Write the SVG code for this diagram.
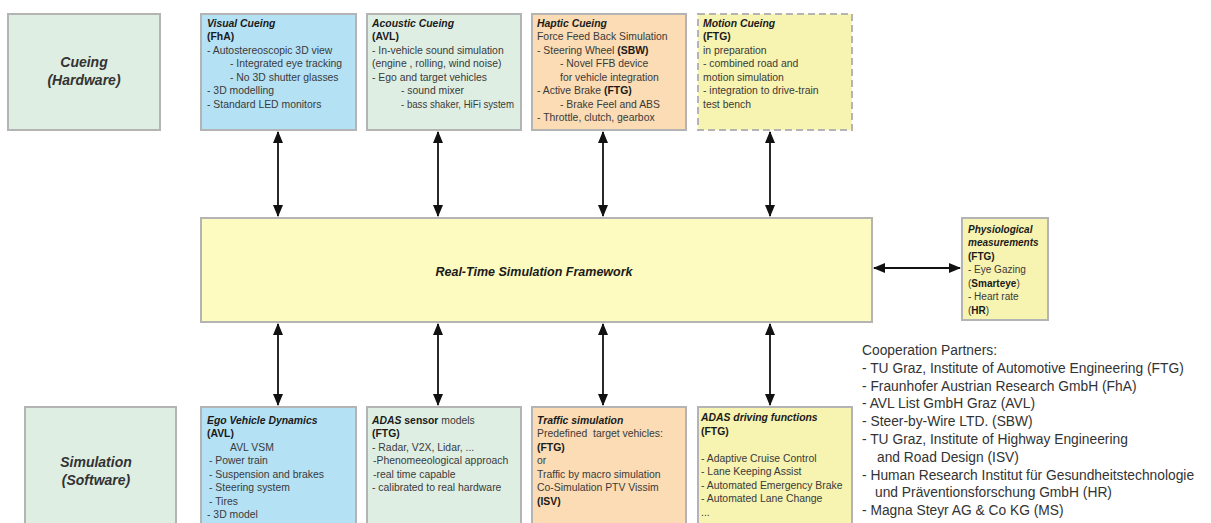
<svg xmlns="http://www.w3.org/2000/svg" width="1211" height="523" viewBox="0 0 1211 523">
<defs>
<style>
text{font-family:"Liberation Sans",Arial,sans-serif;fill:#3a3a3a;font-size:10.4px}
.t{font-weight:bold;font-style:italic;fill:#1a1a1a}
.b{font-weight:bold;fill:#1a1a1a}
.box{stroke:#b4b4b4;stroke-width:2}
.blue{fill:#b5e1f5}
.green{fill:#dfeee3}
.peach{fill:#fbdcb4}
.yel{fill:#f7f3b1}
.big{font-size:14px;font-weight:bold;font-style:italic;fill:#333;text-anchor:middle}
.cp{font-size:13.8px;fill:#333}
.conn{stroke:#111;stroke-width:1.8;fill:none;marker-start:url(#ah);marker-end:url(#ah)}
</style>
<marker id="ah" viewBox="0 0 12 10" refX="11" refY="5" markerWidth="12" markerHeight="10" orient="auto-start-reverse" markerUnits="userSpaceOnUse">
<path d="M0,0 L12,5 L0,10 z" fill="#111"/>
</marker>
</defs>
<rect width="1211" height="523" fill="#fff"/>

<g id="connectors">
<line class="conn" x1="278" y1="132" x2="278" y2="216"/>
<line class="conn" x1="438" y1="132" x2="438" y2="216"/>
<line class="conn" x1="603" y1="132" x2="603" y2="216"/>
<line class="conn" x1="770" y1="132" x2="770" y2="216"/>
<line class="conn" x1="278" y1="324" x2="278" y2="405"/>
<line class="conn" x1="438" y1="324" x2="438" y2="405"/>
<line class="conn" x1="603" y1="324" x2="603" y2="405"/>
<line class="conn" x1="770" y1="324" x2="770" y2="405"/>
<line class="conn" x1="874" y1="268" x2="960" y2="268"/>
</g>

<g id="cueing-hw">
<rect class="box green" x="8" y="14" width="152" height="116"/>
<text class="big" x="84" y="67">Cueing</text>
<text class="big" x="84" y="85">(Hardware)</text>
</g>

<g id="simulation-sw">
<rect class="box green" x="25" y="407" width="151" height="120"/>
<text class="big" x="96" y="467">Simulation</text>
<text class="big" x="96" y="485">(Software)</text>
</g>

<g id="visual">
<rect class="box blue" x="201" y="14" width="155" height="116"/>
<text class="t" x="207" y="27">Visual Cueing</text>
<text class="b" x="207" y="40">(FhA)</text>
<text x="207" y="54">- Autostereoscopic 3D view</text>
<text x="230" y="67">- Integrated eye tracking</text>
<text x="230" y="81">- No 3D shutter glasses</text>
<text x="207" y="94">- 3D modelling</text>
<text x="207" y="108">- Standard LED monitors</text>
</g>

<g id="acoustic">
<rect class="box green" x="367" y="14" width="154" height="116"/>
<text class="t" x="372" y="27">Acoustic Cueing</text>
<text class="b" x="372" y="40">(AVL)</text>
<text x="372" y="54">- In-vehicle sound simulation</text>
<text x="372" y="67">(engine , rolling, wind noise)</text>
<text x="372" y="81">- Ego and target vehicles</text>
<text x="401" y="94">- sound mixer</text>
<text x="401" y="108" textLength="113" lengthAdjust="spacingAndGlyphs">- bass shaker, HiFi system</text>
</g>

<g id="haptic">
<rect class="box peach" x="532" y="14" width="154" height="116"/>
<text class="t" x="537" y="27">Haptic Cueing</text>
<text x="537" y="40">Force Feed Back Simulation</text>
<text x="537" y="54">- Steering Wheel <tspan class="b">(SBW)</tspan></text>
<text x="560" y="67">- Novel FFB device</text>
<text x="560" y="81">for vehicle integration</text>
<text x="537" y="94">- Active Brake <tspan class="b">(FTG)</tspan></text>
<text x="560" y="108">- Brake Feel and ABS</text>
<text x="537" y="121">- Throttle, clutch, gearbox</text>
</g>

<g id="motion">
<rect class="yel" x="698" y="14" width="154" height="116" stroke="#b4b4b4" stroke-width="2" stroke-dasharray="7,4"/>
<text class="t" x="703" y="27">Motion Cueing</text>
<text class="b" x="703" y="40">(FTG)</text>
<text x="703" y="54">in preparation</text>
<text x="703" y="67">- combined road and</text>
<text x="703" y="81">motion simulation</text>
<text x="703" y="94">- integration to drive-train</text>
<text x="703" y="108">test bench</text>
</g>

<g id="framework">
<rect class="box" fill="#fdfbc0" x="201" y="218" width="671" height="104"/>
<text class="t" x="534" y="276" text-anchor="middle" style="font-size:12.5px">Real-Time Simulation Framework</text>
</g>

<g id="physio">
<rect class="box yel" x="962" y="218" width="86" height="102"/>
<text class="t" x="968" y="233" style="font-size:10px">Physiological</text>
<text class="t" x="968" y="246" style="font-size:10px">measurements</text>
<text class="b" x="968" y="260" style="font-size:10px">(FTG)</text>
<text x="968" y="273" style="font-size:10px">- Eye Gazing</text>
<text x="968" y="287" style="font-size:10px">(<tspan class="b">Smarteye</tspan>)</text>
<text x="968" y="300" style="font-size:10px">- Heart rate</text>
<text x="968" y="314" style="font-size:10px">(<tspan class="b">HR</tspan>)</text>
</g>

<g id="ego">
<rect class="box blue" x="201" y="407" width="155" height="120"/>
<text class="t" x="207" y="424">Ego Vehicle Dynamics</text>
<text class="b" x="207" y="437">(AVL)</text>
<text x="230" y="451">AVL VSM</text>
<text x="209" y="464">- Power train</text>
<text x="209" y="478">- Suspension and brakes</text>
<text x="209" y="491">- Steering system</text>
<text x="209" y="505">- Tires</text>
<text x="207" y="518">- 3D model</text>
</g>

<g id="adas-sensor">
<rect class="box green" x="367" y="407" width="154" height="120"/>
<text x="372" y="424"><tspan class="t">ADAS</tspan><tspan class="b"> sensor</tspan> models</text>
<text class="b" x="372" y="437">(FTG)</text>
<text x="372" y="451">- Radar, V2X, Lidar, ...</text>
<text x="373" y="464">-Phenomeeological approach</text>
<text x="373" y="478">-real time capable</text>
<text x="372" y="491">- calibrated to real hardware</text>
</g>

<g id="traffic">
<rect class="box peach" x="532" y="407" width="154" height="120"/>
<text class="t" x="537" y="424">Traffic simulation</text>
<text x="537" y="437" style="white-space:pre">Predefined  target vehicles:</text>
<text class="b" x="537" y="451">(FTG)</text>
<text x="537" y="464">or</text>
<text x="537" y="478">Traffic by macro simulation</text>
<text x="537" y="491">Co-Simulation PTV Vissim</text>
<text class="b" x="537" y="505">(ISV)</text>
</g>

<g id="adas-driving">
<rect class="box yel" x="698" y="407" width="154" height="120"/>
<text class="t" x="701" y="421">ADAS driving functions</text>
<text class="b" x="701" y="435">(FTG)</text>
<text x="701" y="462">- Adaptive Cruise Control</text>
<text x="701" y="475">- Lane Keeping Assist</text>
<text x="701" y="489">- Automated Emergency Brake</text>
<text x="701" y="502">- Automated Lane Change</text>
<text x="701" y="516">...</text>
</g>

<g id="partners">
<text class="cp" x="862" y="355">Cooperation Partners:</text>
<text class="cp" x="862" y="373">- TU Graz, Institute of Automotive Engineering (FTG)</text>
<text class="cp" x="862" y="391">- Fraunhofer Austrian Research GmbH (FhA)</text>
<text class="cp" x="862" y="408">- AVL List GmbH Graz (AVL)</text>
<text class="cp" x="862" y="426">- Steer-by-Wire LTD. (SBW)</text>
<text class="cp" x="862" y="444">- TU Graz, Institute of Highway Engineering</text>
<text class="cp" x="877" y="462">and Road Design (ISV)</text>
<text class="cp" x="862" y="480">- Human Research Institut für Gesundheitstechnologie</text>
<text class="cp" x="875" y="497">und Präventionsforschung GmbH (HR)</text>
<text class="cp" x="862" y="515">- Magna Steyr AG &amp; Co KG (MS)</text>
</g>
</svg>
